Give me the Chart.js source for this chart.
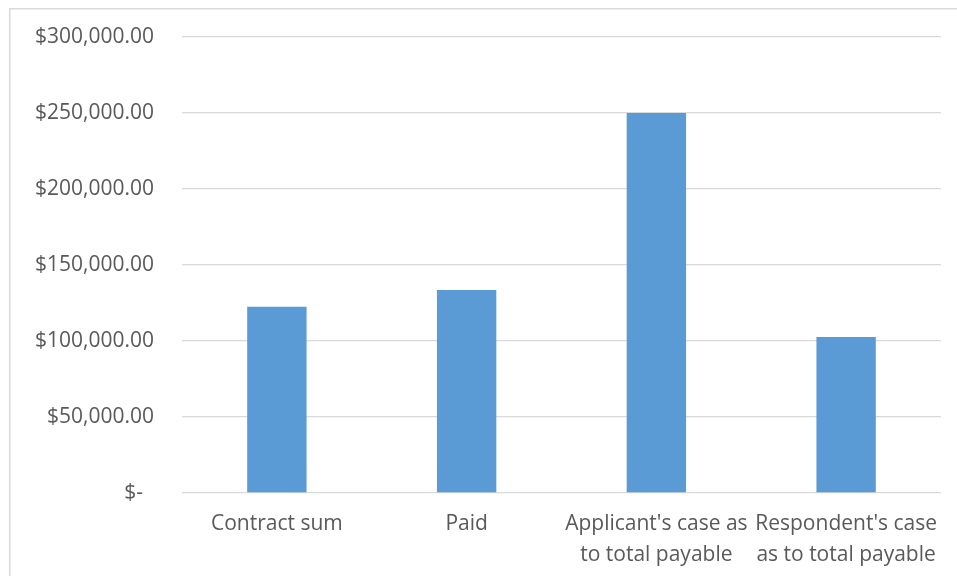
<!DOCTYPE html>
<html>
<head>
<meta charset="utf-8">
<script src="https://cdn.jsdelivr.net/npm/chart.js@4"></script>
<style>
  html, body { margin: 0; padding: 0; background: #fff; overflow: hidden; }
  #wrap { position: relative; width: 957px; height: 576px; }
</style>
</head>
<body>
<div id="wrap"><canvas id="chart_1"></canvas></div>
<script>
// data
const categories = [
    'Contract sum',
    'Paid',
    ["Applicant's case as", 'to total payable'],
    ["Respondent's case", 'as to total payable']
];
const amounts = [122500, 133500, 250000, 102600];
const yTicks = [0, 50000, 100000, 150000, 200000, 250000, 300000];

const textColor = '#595959';
const gridColor = '#d9d9d9';

function money(v) {
    if (v === 0) return '$-  ';
    return '$' + v.toLocaleString('en-US', {minimumFractionDigits: 2, maximumFractionDigits: 2});
}

// light frame on the left and top, like the Excel chart area
const frame = {
    id: 'frame',
    beforeDraw(chart) {
        const ctx = chart.ctx;
        ctx.save();
        ctx.fillStyle = '#fff';
        ctx.fillRect(0, 0, chart.width, chart.height);
        ctx.fillStyle = gridColor;
        ctx.fillRect(9, 8, chart.width - 9, 1.5);
        ctx.fillRect(9, 8, 1.5, chart.height - 8);
        ctx.restore();
    }
};

Chart.defaults.font.family = "'Open Sans', sans-serif";
Chart.defaults.color = textColor;

new Chart(document.getElementById('chart_1'), {
    type: 'bar',
    data: {
        labels: categories,
        datasets: [{
            data: amounts,
            backgroundColor: '#5b9bd5',
            borderWidth: 0,
            categoryPercentage: 1,
            barPercentage: 0.313
        }]
    },
    plugins: [frame],
    options: {
        responsive: true,
        maintainAspectRatio: false,
        animation: false,
        layout: {
            padding: {top: 37, right: 16, bottom: 0, left: 0}
        },
        plugins: {
            legend: {display: false},
            tooltip: {enabled: false}
        },
        scales: {
            x: {
                grid: {display: false, drawTicks: false},
                border: {display: false},
                ticks: {
                    font: {size: 21, lineHeight: 1.45},
                    color: textColor,
                    padding: 16,
                    maxRotation: 0,
                    autoSkip: false
                },
                afterFit: s => { s.height = 83; }
            },
            y: {
                min: 0,
                max: 300000,
                afterBuildTicks: s => { s.ticks = yTicks.map(v => ({value: v})); },
                grid: {color: gridColor, lineWidth: 1.3, drawTicks: false},
                border: {display: false},
                ticks: {
                    font: {size: 21},
                    color: textColor,
                    padding: 28,
                    callback: v => money(v)
                },
                afterFit: s => {
                    s.width = 182;
                    s.paddingTop = 0;
                    s.paddingBottom = 0;
                }
            }
        }
    }
});
</script>
</body>
</html>
